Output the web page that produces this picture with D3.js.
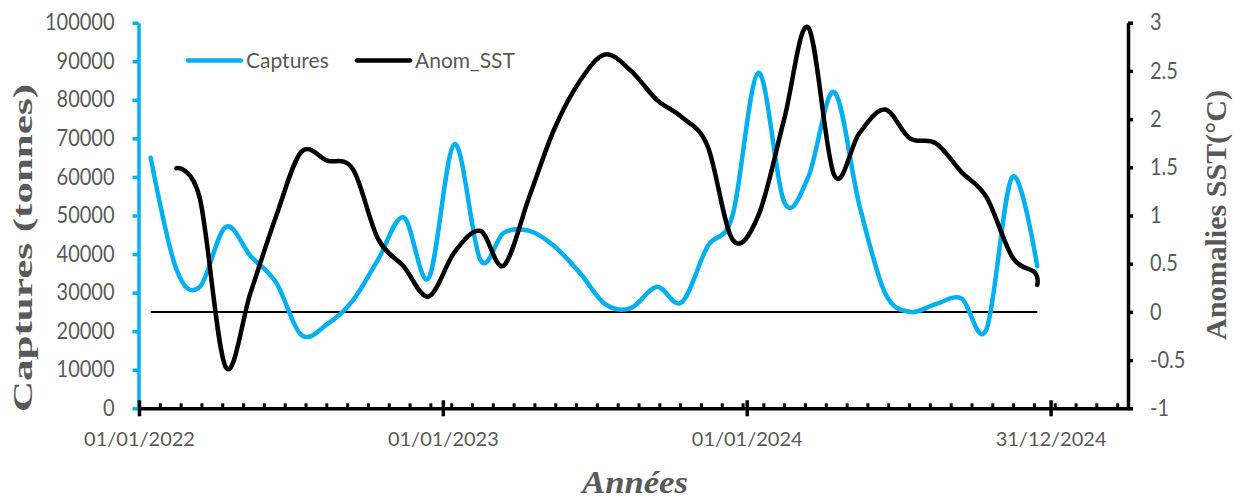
<!DOCTYPE html>
<html>
<head>
<meta charset="utf-8">
<script src="https://cdn.jsdelivr.net/npm/d3@7"></script>
<style>
  html, body { margin: 0; padding: 0; background: #ffffff; }
  svg { display: block; }
</style>
</head>
<body>
<svg id="chart" width="1233" height="500"></svg>
<script>
// ---------------- DATA ----------------
const captureMonths = ["2022-01","2022-02","2022-03","2022-04","2022-05","2022-06","2022-07","2022-08","2022-09","2022-10","2022-11","2022-12",
  "2023-01","2023-02","2023-03","2023-04","2023-05","2023-06","2023-07","2023-08","2023-09","2023-10","2023-11","2023-12",
  "2024-01","2024-02","2024-03","2024-04","2024-05","2024-06","2024-07","2024-08","2024-09","2024-10","2024-11","2024-12"];
const captures = [65000, 36000, 31500, 47000, 39500, 32500, 19000, 21800, 28000, 38500, 49500, 33800,
  68500, 38500, 45500, 46000, 42000, 35000, 27000, 26000, 31500, 27500, 42000, 50000,
  87000, 53500, 60000, 82000, 53000, 30000, 25000, 27000, 28500, 20500, 60000, 36800];

const anomDates = ["2022-02-15","2022-03-15","2022-04-15","2022-05-15","2022-06-15","2022-07-15","2022-08-15","2022-09-15","2022-10-15","2022-11-15","2022-12-15",
  "2023-01-15","2023-02-15","2023-03-15","2023-04-15","2023-05-15","2023-06-15","2023-07-15","2023-08-15","2023-09-15","2023-10-15","2023-11-15","2023-12-15",
  "2024-01-15","2024-02-15","2024-03-15","2024-04-15","2024-05-15","2024-06-15","2024-07-15","2024-08-15","2024-09-15","2024-10-15","2024-11-15","2024-12-12","2024-12-15"];
const anomSST = [1.49, 1.18, -0.57, 0.2, 1.0, 1.66, 1.57, 1.48, 0.76, 0.47, 0.16,
  0.62, 0.84, 0.48, 1.2, 1.9, 2.4, 2.67, 2.5, 2.2, 2.02, 1.72, 0.75,
  1.0, 2.0, 2.95, 1.42, 1.85, 2.1, 1.8, 1.75, 1.45, 1.19, 0.57, 0.41, 0.28];

const zeroLine = new Array(captureMonths.length).fill(0);

const leftTicks = [0, 10000, 20000, 30000, 40000, 50000, 60000, 70000, 80000, 90000, 100000];
const rightTicks = [-1, -0.5, 0, 0.5, 1, 1.5, 2, 2.5, 3];
const xMajorTicks = ["2022-01-01", "2023-01-01", "2024-01-01", "2024-12-31"];
const xMinorStepDays = 25;
const seriesNames = ["Captures", "Anom_SST"];

// ---------------- LAYOUT ----------------
const parse = d3.utcParse("%Y-%m-%d");
const dayMs = 86400000;
const xStart = parse("2022-01-01");
const xEnd = new Date(+xStart + 1188 * dayMs);
const plot = { left: 139, right: 1128, top: 22.7, bottom: 408.3 };

const x = d3.scaleUtc().domain([xStart, xEnd]).range([plot.left, plot.right]);
const yL = d3.scaleLinear().domain([0, 100000]).range([plot.bottom, plot.top]);
const yR = d3.scaleLinear().domain([-1, 3]).range([plot.bottom, plot.top]);

const blue = "#00B0F0";
const grey = "#595959";
const tickFont = "Lato, 'Open Sans', sans-serif";
const serif = "'Liberation Serif', 'DejaVu Serif', serif";

const svg = d3.select("#chart");
svg.append("rect").attr("width", 1233).attr("height", 500).attr("fill", "#fff");

// ---------------- SERIES ----------------
const capData = captureMonths.map((m, i) => ({ d: parse(m + "-15"), v: captures[i] }));
const anomData = anomDates.map((s, i) => ({ d: parse(s), v: anomSST[i] }));
const zeroData = captureMonths.map((m, i) => ({ d: parse(m + "-15"), v: zeroLine[i] }));

const curve = d3.curveCardinal.tension(0);

svg.append("path")
  .datum(zeroData)
  .attr("fill", "none").attr("stroke", "#000").attr("stroke-width", 2)
  .attr("d", d3.line().x(p => x(p.d)).y(p => yR(p.v)));

svg.append("path")
  .datum(capData)
  .attr("fill", "none").attr("stroke", blue).attr("stroke-width", 4.5)
  .attr("stroke-linejoin", "round").attr("stroke-linecap", "round")
  .attr("d", d3.line().curve(curve).x(p => x(p.d)).y(p => yL(p.v)));

svg.append("path")
  .datum(anomData)
  .attr("fill", "none").attr("stroke", "#000").attr("stroke-width", 4.5)
  .attr("stroke-linejoin", "round").attr("stroke-linecap", "round")
  .attr("d", d3.line().curve(curve).x(p => x(p.d)).y(p => yR(p.v)));

// ---------------- AXES ----------------
const labelScaleY = 1.12;

// left axis
const gL = svg.append("g").attr("transform", `translate(${plot.left - 0.5},0)`)
  .call(d3.axisLeft(yL).tickValues(leftTicks).tickSize(6).tickSizeOuter(0).tickPadding(18).tickFormat(d => String(d)));
gL.select(".domain").attr("stroke", blue).attr("stroke-width", 3.5);
gL.selectAll(".tick line").attr("stroke", blue).attr("stroke-width", 3.5);
gL.selectAll(".tick text").attr("fill", grey).attr("font-family", tickFont).attr("font-size", 20)
  .attr("transform", `scale(1,${labelScaleY})`);

// right axis
const gR = svg.append("g").attr("transform", `translate(${plot.right},0)`)
  .call(d3.axisRight(yR).tickValues(rightTicks).tickSize(5).tickSizeOuter(0).tickPadding(17).tickFormat(d => String(d)));
gR.select(".domain").attr("stroke", "#000").attr("stroke-width", 3.5);
gR.selectAll(".tick line").attr("stroke", "#000").attr("stroke-width", 3.5);
gR.selectAll(".tick text").attr("fill", grey).attr("font-family", tickFont).attr("font-size", 20)
  .attr("transform", `scale(1,${labelScaleY})`);

// bottom axis: minor ticks (inside), major ticks (cross)
const minorTicks = d3.range(0, 1188, xMinorStepDays).map(k => new Date(+xStart + k * dayMs));
const gBm = svg.append("g").attr("transform", `translate(0,${plot.bottom})`)
  .call(d3.axisBottom(x).tickValues(minorTicks).tickSize(-5).tickSizeOuter(0).tickFormat(""));
gBm.select(".domain").attr("stroke", "#000").attr("stroke-width", 3.5);
gBm.selectAll(".tick line").attr("stroke", "#000").attr("stroke-width", 3);

const majorDates = xMajorTicks.map(parse);
const gBM = svg.append("g").attr("transform", `translate(0,${plot.bottom + 8})`)
  .call(d3.axisBottom(x).tickValues(majorDates).tickSize(-16).tickSizeOuter(0)
    .tickFormat(d3.utcFormat("%d/%m/%Y")));
gBM.select(".domain").remove();
gBM.selectAll(".tick line").attr("stroke", "#000").attr("stroke-width", 3.5);
gBM.selectAll(".tick text").attr("fill", grey).attr("font-family", tickFont).attr("font-size", 20)
  .attr("dy", "0").attr("y", 30);

// ---------------- TITLES ----------------
svg.append("text")
  .attr("transform", "translate(23,248) rotate(-90)")
  .attr("text-anchor", "middle").attr("dy", "0.35em")
  .attr("font-family", serif).attr("font-weight", "bold").attr("font-size", 27)
  .attr("fill", grey)
  .attr("textLength", 328).attr("lengthAdjust", "spacingAndGlyphs")
  .text("Captures (tonnes)");

svg.append("text")
  .attr("transform", "translate(1215,215) rotate(-90)")
  .attr("text-anchor", "middle").attr("dy", "0.35em")
  .attr("font-family", serif).attr("font-weight", "bold").attr("font-size", 30)
  .attr("fill", grey)
  .attr("textLength", 250).attr("lengthAdjust", "spacingAndGlyphs")
  .text("Anomalies SST(°C)");

svg.append("text")
  .attr("x", 635).attr("y", 493)
  .attr("text-anchor", "middle")
  .attr("font-family", serif).attr("font-weight", "bold").attr("font-style", "italic").attr("font-size", 32)
  .attr("fill", grey)
  .attr("textLength", 106).attr("lengthAdjust", "spacingAndGlyphs")
  .text("Années");

// ---------------- LEGEND ----------------
const legendItems = [
  { name: seriesNames[0], color: blue, x0: 188 },
  { name: seriesNames[1], color: "#000", x0: 357 }
];
const lg = svg.append("g").attr("transform", "translate(0,60.5)");
legendItems.forEach(it => {
  lg.append("line").attr("x1", it.x0).attr("x2", it.x0 + 53).attr("y1", 0).attr("y2", 0)
    .attr("stroke", it.color).attr("stroke-width", 4.5).attr("stroke-linecap", "round");
  lg.append("text").attr("x", it.x0 + 58).attr("y", 0).attr("dy", "0.35em")
    .attr("font-family", tickFont).attr("font-size", 21).attr("fill", grey)
    .text(it.name);
});
</script>
</body>
</html>
